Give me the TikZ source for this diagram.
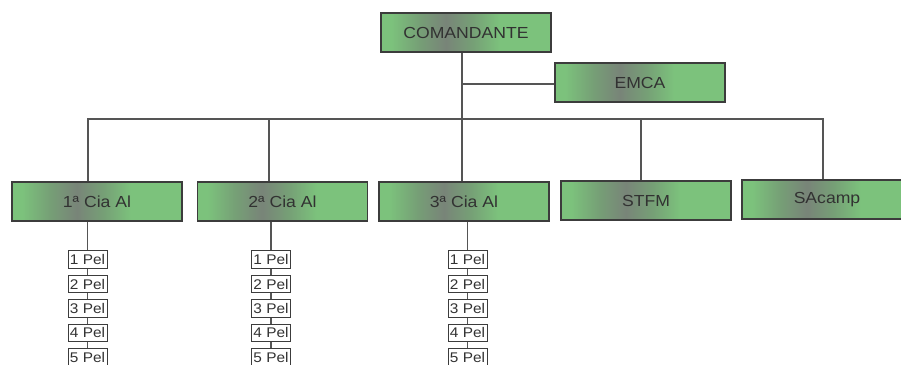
\documentclass[tikz,border=0pt]{standalone}
\usepackage{fontspec}
\setmainfont[FakeStretch=1.1]{Liberation Sans}
\definecolor{boxg}{RGB}{124,194,124}
\definecolor{boxm}{RGB}{118,160,118}
\definecolor{boxd}{RGB}{120,132,120}
\definecolor{edge}{RGB}{60,60,60}
\definecolor{txt}{RGB}{50,50,50}
\definecolor{conn}{RGB}{85,85,85}
\pgfdeclarehorizontalshading{boxshade}{100bp}{color(0bp)=(boxg); color(28bp)=(boxg); color(36bp)=(boxm); color(44bp)=(boxd); color(52bp)=(boxm); color(60bp)=(boxg); color(100bp)=(boxg)}
\tikzset{
  unitbox/.style={draw=edge, line width=1.2pt, shading=boxshade, minimum width=170pt, minimum height=39pt, inner sep=0pt, text=txt, font=\fontsize{16}{19}\selectfont},
  pelbox/.style={draw=edge, line width=1pt, fill=white, minimum width=39pt, minimum height=17.5pt, inner sep=0pt, text=txt, font=\fontsize{14}{16}\selectfont},
  link/.style={draw=conn, line width=1.1pt}
}
\begin{document}
\begin{tikzpicture}[x=1pt,y=-1pt]
\clip (0,0) rectangle (901,364);
\fill[white] (0,0) rectangle (901,364);
% top
\node[unitbox] (cmd) at (466,32.5) {COMANDANTE};
\node[unitbox] (emca) at (640,82.5) {EMCA};
% row
\node[unitbox] (cia1) at (97,201.5) {1ª Cia Al};
\node[unitbox] (cia2) at (282.5,201.5) {2ª Cia Al};
\node[unitbox] (cia3) at (464,201.5) {3ª Cia Al};
\node[unitbox] (stfm) at (646,200.5) {STFM};
\node[unitbox] (sac) at (827,199.5) {SAcamp};
% bus coordinates
\coordinate (t0) at (462,119);
\coordinate (b1) at (88,119);
\coordinate (b2) at (269,119);
\coordinate (b4) at (641,119);
\coordinate (b5) at (823,119);
\coordinate (e0) at (462,84);
\draw[link] (cmd.south -| t0) -- (t0 |- cia3.north);
\draw[link] (e0) -- (e0 -| emca.west);
\draw[link] (b1 |- cia1.north) -- (b1) -- (b5) -- (b5 |- sac.north);
\draw[link] (b2) -- (b2 |- cia2.north);
\draw[link] (b4) -- (b4 |- stfm.north);
% platoons
\foreach \c/\x in {1/87.5,2/271,3/467.5}{
  \foreach \i/\y in {1/259.5,2/284,3/308.4,4/332.8,5/357.2}{
    \node[pelbox] (p\c\i) at (\x,\y) {\i\ Pel};
  }
  \draw[link] (cia\c.south -| p\c1) -- (p\c1.north);
  \draw[link] (p\c1.south) -- (p\c2.north);
  \draw[link] (p\c2.south) -- (p\c3.north);
  \draw[link] (p\c3.south) -- (p\c4.north);
  \draw[link] (p\c4.south) -- (p\c5.north);
}
\end{tikzpicture}
\end{document}
